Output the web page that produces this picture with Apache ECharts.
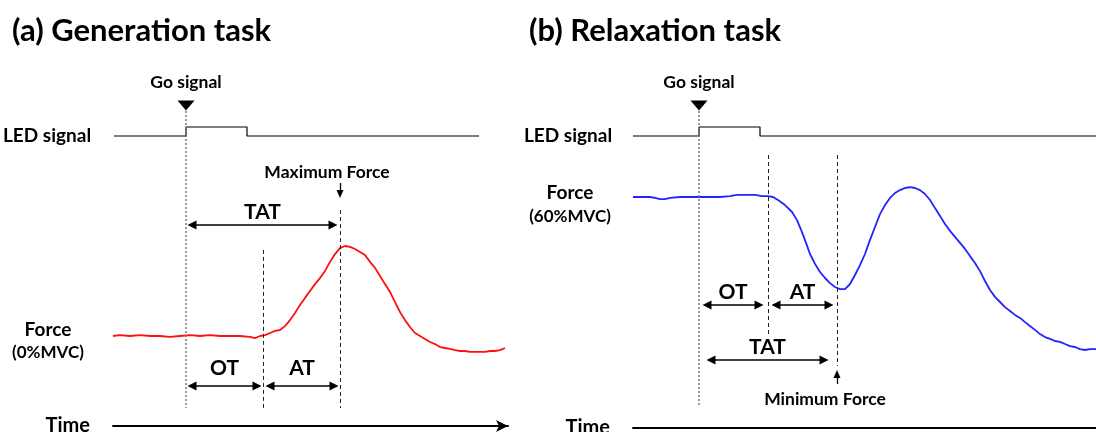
<!DOCTYPE html>
<html><head><meta charset="utf-8">
<script src="https://cdn.jsdelivr.net/npm/echarts@6/dist/echarts.min.js"></script>
<style>html,body{margin:0;padding:0;background:#fff}#c{width:1096px;height:432px}</style>
</head><body><div id="c"></div>
<script>
// ---------- text ----------
const titles = ['(a) Generation task', '(b) Relaxation task'];
const forceNames = [['Force', '(0%MVC)'], ['Force', '(60%MVC)']];
const ledName = 'LED signal';
const timeName = 'Time';

// ---------- panel (a): generation task (time in ms from Go signal, force in %MVC) ----------
const timeA = [-292,-264,-224,-184,-144,-104,-64,-24,16,56,96,136,176,216,256,276,296,316,336,356,376,396,416,436,456,476,496,516,536,556,576,596,616,636,656,676,696,716,736,756,776,796,816,836,856,876,896,916,936,956,976,996,1016,1036,1056,1076,1096,1116,1136,1156,1176,1196,1216,1236,1256,1276];
const forceA = [0,0.3,0,0.3,0,0,-0.3,0,0.3,0,0.3,0,0,0,-0.3,-0.7,0,0.3,1.0,1.7,2.0,3.3,5.3,7.7,10.3,12.7,15.0,17.3,19.3,21.7,24.7,27.3,29.3,30.0,29.7,29.0,28.0,27.0,24.7,22.7,20.0,17.3,14.7,11.3,8.0,5.3,3.0,1.0,0,-1.0,-2.0,-2.7,-3.7,-4.0,-4.3,-4.7,-5.0,-5.0,-5.3,-5.3,-5.3,-5.3,-5.0,-5.0,-4.7,-4.0];
const ledTimeA = [-288, 0, 0, 244, 244, 1172];
const ledA = [0, 0, 1, 1, 0, 0];
const goA = 0, onsetA = 308, peakA = 616;

// ---------- panel (b): relaxation task ----------
const timeB = [-264,-236,-196,-176,-156,-136,-116,-76,-36,4,44,84,124,152,184,224,252,276,296,316,344,372,392,412,428,444,464,484,504,524,544,564,584,604,624,644,664,684,704,724,744,764,784,804,824,844,864,884,904,924,944,964,984,1004,1024,1044,1064,1084,1104,1124,1144,1164,1184,1204,1224,1244,1264,1284,1304,1324,1344,1364,1384,1404,1424,1444,1464,1484,1504,1524,1544,1564,1588];
const forceB = [60,60,60,59.7,59.3,59.3,59.7,60,60,60,60,60,60.3,60.7,60.7,60.7,60.3,60.3,60,59,57.3,55,52.3,48.3,44.7,41,37.7,35,33,31.3,30,29.3,29.3,31,34,37.3,41,45.7,50,54.3,57.3,59.7,61.3,62.3,63,63.3,63,62.3,61,59,56.3,53.7,51,48.7,46.7,44.7,42.7,40.3,38,35.3,32,29,26.7,25,23.3,22,20.7,19.7,18.3,17,15.7,14.3,13.3,12.7,12,11.7,11,10.3,10,9.3,9,9.3,9.3];
const ledTimeB = [-264, 0, 0, 244, 244, 1640];
const ledB = [0, 0, 1, 1, 0, 0];
const goB = 0, onsetB = 276, minB = 552;

// ---------- helpers ----------
const FONT = 'Lato, "Open Sans", sans-serif';
const zip = (xs, ys) => xs.map((x, i) => [x, ys[i]]);
const txt = (size) => ({ color: '#000', fontFamily: FONT, fontWeight: 'bold', fontSize: size });

function vline(t, y0, y1, style) {
  return [{ coord: [t, y0], symbol: 'none', lineStyle: style }, { coord: [t, y1], symbol: 'none' }];
}
function span(t0, t1, y, text, dist) {
  return [
    { coord: [t0, y], symbol: 'triangle', symbolSize: [9, 9],
      lineStyle: { color: '#000', width: 1.5, type: 'solid' },
      label: Object.assign({ show: true, formatter: text, position: 'insideMiddleTop', distance: dist }, txt(21)) },
    { coord: [t1, y], symbol: 'triangle', symbolSize: [9, 9] }
  ];
}
function pointer(t, y0, y1, text, dist, shift) {
  return [
    { coord: [t, y0], symbol: 'none',
      lineStyle: { color: '#000', width: 1.3, type: 'solid' },
      label: Object.assign({ show: true, formatter: text, position: 'start', distance: dist, padding: [0, shift, 0, 0] }, txt(17.5)) },
    { coord: [t, y1], symbol: 'triangle', symbolSize: [7, 8] }
  ];
}
const goStyle = { color: '#777', width: 1.5, type: [2, 2] };
const dashStyle = { color: '#222', width: 1, type: [4, 3] };

const hiddenAxis = (grid, min, max) => ({ gridIndex: grid, type: 'value', min, max, show: false });
const timeAxis = (grid, min, max) => ({
  gridIndex: grid, type: 'value', min, max, position: 'bottom',
  axisLine: { show: true, onZero: false, symbol: ['none', 'arrow'], symbolSize: [9, 12], lineStyle: { color: '#000', width: 2 } },
  axisTick: { show: false }, axisLabel: { show: false }, splitLine: { show: false },
  name: timeName, nameLocation: 'start', nameGap: 23, nameTextStyle: txt(20)
});

function ledSeries(xi, times, vals, go) {
  return {
    type: 'line', xAxisIndex: xi, yAxisIndex: xi, data: zip(times, vals),
    symbol: 'none', lineStyle: { color: '#000', width: 1.2 }, animation: false, silent: true,
    markPoint: {
      silent: true, animation: false,
      symbol: 'triangle', symbolRotate: 180, symbolSize: [17, 10],
      itemStyle: { color: '#000' },
      label: Object.assign({ show: true, position: 'top', distance: 9, formatter: 'Go signal' }, txt(17.5)),
      data: [{ coord: [go, 3.4] }]
    }
  };
}

const gridBase = { outerBoundsMode: 'none', containLabel: false };
const option = {
  animation: false,
  backgroundColor: '#fff',
  grid: [
    Object.assign({ left: 113, top: 96, width: 395, height: 330 }, gridBase),
    Object.assign({ left: 113, top: 100, width: 395, height: 45 }, gridBase),
    Object.assign({ left: 633, top: 95, width: 475, height: 333 }, gridBase),
    Object.assign({ left: 633, top: 100, width: 475, height: 45 }, gridBase)
  ],
  xAxis: [
    timeAxis(0, -292, 1288),
    hiddenAxis(1, -292, 1288),
    timeAxis(2, -264, 1636),
    hiddenAxis(3, -264, 1636)
  ],
  yAxis: [
    hiddenAxis(0, -30, 80),
    hiddenAxis(1, -1, 4),
    hiddenAxis(2, -17, 94),
    hiddenAxis(3, -1, 4)
  ],
  graphic: [
    { type: 'text', x: 12, y: 31, style: { text: titles[0], fontSize: 31, fontWeight: 'bold', fontFamily: FONT, fill: '#000', verticalAlign: 'middle' } },
    { type: 'text', x: 529, y: 31, style: { text: titles[1], fontSize: 31, fontWeight: 'bold', fontFamily: FONT, fill: '#000', verticalAlign: 'middle' } },
    { type: 'text', x: 3, y: 136, style: { text: ledName, fontSize: 19, fontWeight: 'bold', fontFamily: FONT, fill: '#000', verticalAlign: 'middle' } },
    { type: 'text', x: 524, y: 136, style: { text: ledName, fontSize: 19, fontWeight: 'bold', fontFamily: FONT, fill: '#000', verticalAlign: 'middle' } },
    { type: 'text', x: 48, y: 330, style: { text: forceNames[0][0], fontSize: 19, fontWeight: 'bold', fontFamily: FONT, fill: '#000', align: 'center', verticalAlign: 'middle' } },
    { type: 'text', x: 48, y: 353, style: { text: forceNames[0][1], fontSize: 17, fontWeight: 'bold', fontFamily: FONT, fill: '#000', align: 'center', verticalAlign: 'middle' } },
    { type: 'text', x: 570, y: 193, style: { text: forceNames[1][0], fontSize: 19, fontWeight: 'bold', fontFamily: FONT, fill: '#000', align: 'center', verticalAlign: 'middle' } },
    { type: 'text', x: 570, y: 217, style: { text: forceNames[1][1], fontSize: 17, fontWeight: 'bold', fontFamily: FONT, fill: '#000', align: 'center', verticalAlign: 'middle' } }
  ],
  series: [
    {
      type: 'line', xAxisIndex: 0, yAxisIndex: 0, data: zip(timeA, forceA),
      symbol: 'none', lineStyle: { color: '#ff1010', width: 1.8 }, silent: true,
      markLine: {
        silent: true, animation: false, symbol: ['none', 'none'], label: { show: false },
        data: [
          vline(goA, 75, -24, goStyle),
          vline(onsetA, 28.7, -24, dashStyle),
          vline(peakA, 42, -24, dashStyle),
          span(goA + 24, peakA - 28, 37, 'TAT', 2),
          span(goA + 24, onsetA - 24, -16.7, 'OT', 7),
          span(onsetA + 28, peakA - 24, -16.7, 'AT', 7),
          pointer(peakA, 51, 47.3, 'Maximum Force', 2, 26)
        ]
      }
    },
    ledSeries(1, ledTimeA, ledA, goA),
    {
      type: 'line', xAxisIndex: 2, yAxisIndex: 2, data: zip(timeB, forceB),
      symbol: 'none', lineStyle: { color: '#2323ff', width: 1.8 }, silent: true,
      markLine: {
        silent: true, animation: false, symbol: ['none', 'none'], label: { show: false },
        data: [
          vline(goB, 88.7, -10, goStyle),
          vline(onsetB, 74, 14, dashStyle),
          vline(minB, 74, 3.7, dashStyle),
          span(goB + 32, onsetB - 36, 24, 'OT', 2),
          span(onsetB + 32, minB - 32, 24, 'AT', 2),
          span(goB + 48, minB - 52, 5.7, 'TAT', 2),
          pointer(minB, -2.3, 1, 'Minimum Force', 6, 24)
        ]
      }
    },
    ledSeries(3, ledTimeB, ledB, goB)
  ]
};

const chart = echarts.init(document.getElementById('c'), null, { renderer: 'canvas' });
chart.setOption(option);
</script>
</body></html>
